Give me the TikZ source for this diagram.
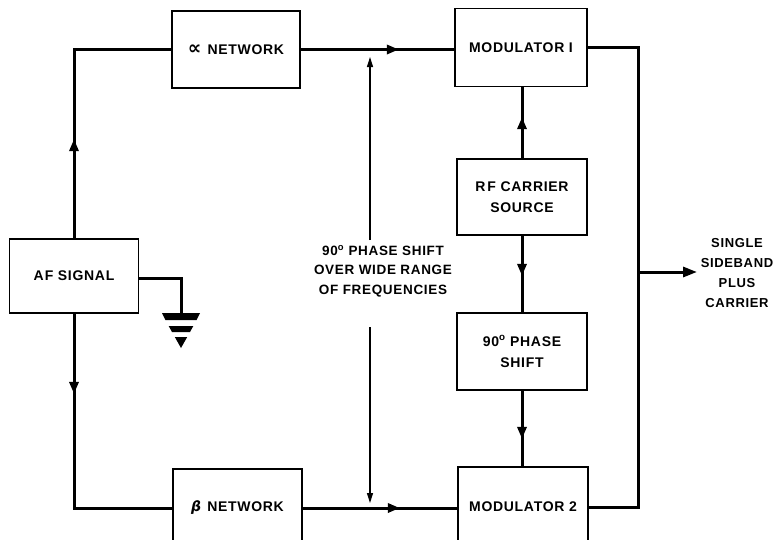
\documentclass[tikz,border=0pt]{standalone}
\usepackage{fontspec}
\setmainfont{Liberation Sans}[LetterSpace=5]
\newfontfamily\symfont{DejaVu Sans}
\usetikzlibrary{arrows.meta,decorations.markings}
\begin{document}
\begin{tikzpicture}[x=1pt,y=-1pt,
  >={Triangle[length=12pt,width=9pt]},
  box/.style={draw, line width=1.8pt, inner sep=0pt, align=center,
    font=\fontsize{14}{21}\selectfont\bfseries},
  lbl/.style={inner sep=0pt, align=center, font=\fontsize{13.5}{19.5}\selectfont\bfseries},
  wire/.style={line width=3pt},
  midarr/.style={postaction=decorate, decoration={markings, mark=at position #1 with {\arrow{>}}}},
  thinarr/.style={line width=1.2pt, -{Triangle[length=10pt,width=6pt]}},
  gndfill/.style={fill=black, draw=none}
]
\useasboundingbox (0,0) rectangle (777,539);
\clip (0,0) rectangle (777,539);

% blocks
\node[box, minimum width=128pt, minimum height=77pt] (alpha) at (236,49.5) {{\symfont\bfseries\fontsize{19}{19}\selectfont ∝}\hspace{6pt}NETWORK};
\node[box, minimum width=129pt, minimum height=74pt] (af) at (74,276) {A\kern1pt F SIGNAL};
\node[box, minimum width=129pt, minimum height=78pt] (beta) at (237.5,508) {{\symfont\bfseries\itshape β}\hspace{6pt}NETWORK};
\node[box, minimum width=132pt, minimum height=78pt] (mod1) at (521,47.5) {MODULATOR I};
\node[box, minimum width=130pt, minimum height=76pt] (rf) at (522,197) {R\kern2pt F CARRIER\\SOURCE};
\node[box, minimum width=130pt, minimum height=77pt] (ps) at (522,351.5) {90\textsuperscript{o} PHASE\\SHIFT};
\node[box, minimum width=130pt, minimum height=80pt] (mod2) at (523,507) {MODULATOR 2};

% labels
\node[lbl] (phase) at (383,271) {90\textsuperscript{o} PHASE SHIFT\\OVER WIDE RANGE\\OF FREQUENCIES};
\node[lbl, font=\fontsize{13}{20}\selectfont\bfseries] (out) at (737,273) {SINGLE\\SIDEBAND\\PLUS\\CARRIER};

% AF paths
\draw[wire, midarr=99pt] (af.north) |- (alpha.west);
\draw[wire, midarr=80pt] (af.south) |- (beta.west);
\draw[wire, midarr=98pt] (alpha.east) -- (alpha.east -| mod1.west);
\draw[wire, midarr=97pt] (beta.east) -- (beta.east -| mod2.west);

% carrier paths
\draw[wire, midarr=41pt] (rf.north) -- (rf.north |- mod1.south);
\draw[wire, midarr=40pt] (rf.south) -- (ps.north);
\draw[wire, midarr=48pt] (ps.south) -- (ps.south |- mod2.north);

% output
\coordinate (jn) at (638,272);
\coordinate (oend) at (697,272);
\draw[wire] (mod1.east) -| (jn) |- (mod2.east);
\draw[wire, -{Triangle[length=14pt,width=10pt]}] (jn) -- (oend);

% ground
\coordinate (gnd) at (181,314);
\draw[wire] ([yshift=-2pt]af.east) -| (gnd);
\fill[gndfill] (162,313) -- (200,313) -- (196.6,320) -- (165.4,320) -- cycle;
\fill[gndfill] (168.7,326) -- (193.3,326) -- (190,332) -- (172,332) -- cycle;
\fill[gndfill] (174.8,337) -- (187.2,337) -- (181,348) -- cycle;

% phase-shift annotation
\coordinate (ptop) at (370,57);
\coordinate (pup) at (370,240);
\coordinate (pdn) at (370,327);
\coordinate (pbot) at (370,503);
\draw[thinarr] (pup) -- (ptop);
\draw[thinarr] (pdn) -- (pbot);
\end{tikzpicture}
\end{document}
